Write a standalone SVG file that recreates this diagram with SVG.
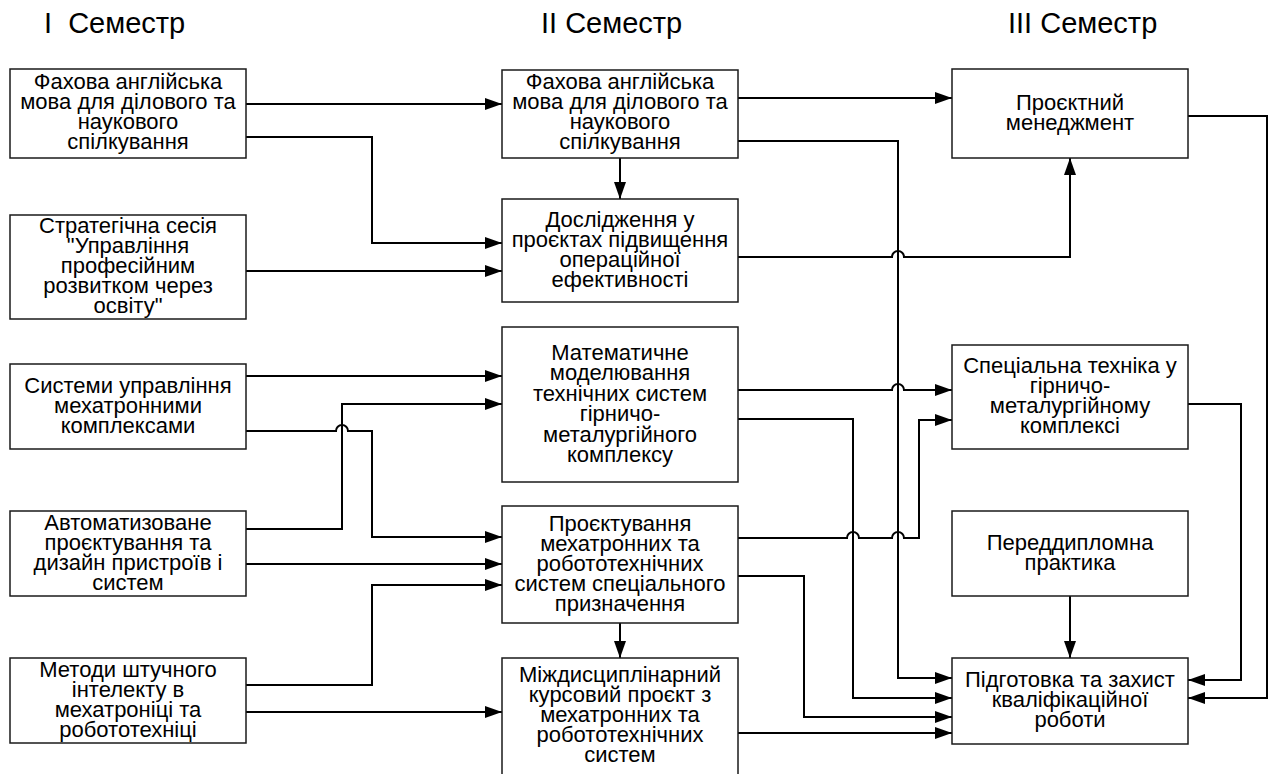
<svg xmlns="http://www.w3.org/2000/svg" width="1275" height="774" viewBox="0 0 1275 774">
<style>
  .box rect { fill: #ffffff; stroke: #1a1a1a; stroke-width: 1.5; }
  .box text { font-family: "Liberation Sans", Arial, sans-serif; font-size: 22px; fill: #000; text-anchor: middle; }
  .hdr { font-family: "Liberation Sans", Arial, sans-serif; font-size: 29px; fill: #000; white-space: pre; }
  .conn path { fill: none; stroke: #000; stroke-width: 2; }
  .conn path.a { marker-end: url(#arr); }
</style>
<defs>
  <marker id="arr" markerUnits="userSpaceOnUse" markerWidth="18" markerHeight="13" refX="17" refY="6" orient="auto">
    <path d="M0,0 L17,6 L0,12 z" fill="#000"/>
  </marker>
</defs>
<rect width="1275" height="774" fill="#fff"/>
<text class="hdr" x="44" y="33">I  Семестр</text>
<text class="hdr" x="541" y="33">II Семестр</text>
<text class="hdr" x="1008" y="33">III Семестр</text>

<g class="conn">
  <path class="a" d="M246,104 H502"/>
  <path class="a" d="M246,137 H372 V243 H502"/>
  <path class="a" d="M246,271 H502"/>
  <path class="a" d="M738,98 H952"/>
  <path class="a" d="M738,141 H898 V678 H952"/>
  <path class="a" d="M620,158 V199"/>
  <path class="a" d="M738,257 H892 A6,6 0 0 1 904,257 H1070 V158"/>
  <path class="a" d="M1188,116 H1267 V698 H1188"/>
  <path class="a" d="M246,376 H502"/>
  <path class="a" d="M246,529 H342 V404 H502"/>
  <path class="a" d="M246,431 H336 A6,6 0 0 1 348,431 H372 V537 H502"/>
  <path class="a" d="M246,564 H502"/>
  <path class="a" d="M246,685 H372 V585 H502"/>
  <path class="a" d="M246,712 H502"/>
  <path class="a" d="M738,390 H892 A6,6 0 0 1 904,390 H952"/>
  <path class="a" d="M738,419 H853 V698 H952"/>
  <path class="a" d="M738,538 H847 A6,6 0 0 1 859,538 H892 A6,6 0 0 1 904,538 H919 V420 H952"/>
  <path class="a" d="M738,576 H804 V717 H952"/>
  <path class="a" d="M620,623 V658"/>
  <path class="a" d="M738,733 H952"/>
  <path class="a" d="M1070,596 V658"/>
  <path class="a" d="M1188,404 H1241 V680 H1188"/>
</g>

<g id="l1" class="box">
  <rect x="10" y="69" width="236" height="89"/>
  <text x="128" y="89">Фахова англійська</text>
  <text x="128" y="109">мова для ділового та</text>
  <text x="128" y="129">наукового</text>
  <text x="128" y="149">спілкування</text>
</g>
<g id="l2" class="box">
  <rect x="10" y="215" width="236" height="104"/>
  <text x="128" y="233">Стратегічна сесія</text>
  <text x="128" y="253">"Управління</text>
  <text x="128" y="273">професійним</text>
  <text x="128" y="293">розвитком через</text>
  <text x="128" y="313">освіту"</text>
</g>
<g id="l3" class="box">
  <rect x="10" y="364" width="236" height="85"/>
  <text x="128" y="393">Системи управління</text>
  <text x="128" y="413">мехатронними</text>
  <text x="128" y="433">комплексами</text>
</g>
<g id="l4" class="box">
  <rect x="10" y="511" width="236" height="85"/>
  <text x="128" y="530">Автоматизоване</text>
  <text x="128" y="550">проєктування та</text>
  <text x="128" y="570">дизайн пристроїв і</text>
  <text x="128" y="590">систем</text>
</g>
<g id="l5" class="box">
  <rect x="10" y="658" width="236" height="85"/>
  <text x="128" y="677">Методи штучного</text>
  <text x="128" y="697">інтелекту в</text>
  <text x="128" y="717">мехатроніці та</text>
  <text x="128" y="737">робототехніці</text>
</g>

<g id="m1" class="box">
  <rect x="502" y="70" width="236" height="88"/>
  <text x="620" y="89">Фахова англійська</text>
  <text x="620" y="109">мова для ділового та</text>
  <text x="620" y="129">наукового</text>
  <text x="620" y="149">спілкування</text>
</g>
<g id="m2" class="box">
  <rect x="502" y="199" width="236" height="103"/>
  <text x="620" y="227">Дослідження у</text>
  <text x="620" y="247">проєктах підвищення</text>
  <text x="620" y="267">операційної</text>
  <text x="620" y="287">ефективності</text>
</g>
<g id="m3" class="box">
  <rect x="502" y="327" width="236" height="155"/>
  <text x="620" y="360">Математичне</text>
  <text x="620" y="380.4">моделювання</text>
  <text x="620" y="400.8">технічних систем</text>
  <text x="620" y="421.2">гірничо-</text>
  <text x="620" y="441.6">металургійного</text>
  <text x="620" y="462">комплексу</text>
</g>
<g id="m4" class="box">
  <rect x="502" y="506" width="236" height="117"/>
  <text x="620" y="531">Проєктування</text>
  <text x="620" y="551">мехатронних та</text>
  <text x="620" y="571">робототехнічних</text>
  <text x="620" y="591">систем спеціального</text>
  <text x="620" y="611">призначення</text>
</g>
<g id="m5" class="box">
  <rect x="502" y="658" width="236" height="120"/>
  <text x="620" y="682">Міждисциплінарний</text>
  <text x="620" y="702">курсовий проєкт з</text>
  <text x="620" y="722">мехатронних та</text>
  <text x="620" y="742">робототехнічних</text>
  <text x="620" y="762">систем</text>
</g>

<g id="r1" class="box">
  <rect x="952" y="69" width="236" height="89"/>
  <text x="1070" y="110">Проєктний</text>
  <text x="1070" y="130">менеджмент</text>
</g>
<g id="r2" class="box">
  <rect x="952" y="345" width="236" height="104"/>
  <text x="1070" y="373">Спеціальна техніка у</text>
  <text x="1070" y="393">гірничо-</text>
  <text x="1070" y="413">металургійному</text>
  <text x="1070" y="433">комплексі</text>
</g>
<g id="r3" class="box">
  <rect x="952" y="511" width="236" height="85"/>
  <text x="1070" y="550">Переддипломна</text>
  <text x="1070" y="570">практика</text>
</g>
<g id="r4" class="box">
  <rect x="952" y="658" width="236" height="86"/>
  <text x="1070" y="687">Підготовка та захист</text>
  <text x="1070" y="707">кваліфікаційної</text>
  <text x="1070" y="727">роботи</text>
</g>
</svg>
